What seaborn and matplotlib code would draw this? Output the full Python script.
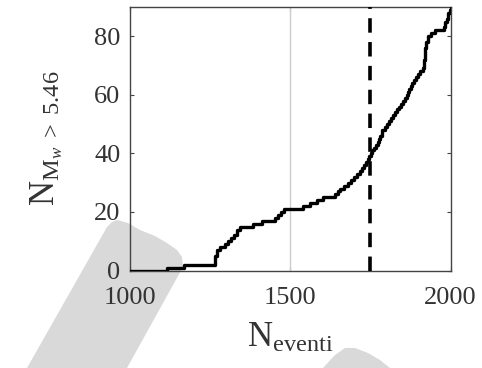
import matplotlib
matplotlib.use("Agg")
import matplotlib.pyplot as plt
from matplotlib.patches import Polygon
import seaborn as sns
import pandas as pd

# Data: event index where the cumulative count reaches the value
n_eventi = [1000, 1116, 1168, 1266, 1272, 1282, 1295, 1305, 1315, 1325, 1335, 1342,
            1385, 1411, 1453, 1462, 1472, 1479, 1541, 1562, 1583, 1602, 1640, 1648,
            1655, 1668, 1680, 1690, 1700, 1708, 1717, 1724, 1730, 1736, 1742, 1747,
            1752, 1756, 1762, 1768, 1774, 1778, 1781, 1785, 1795, 1802, 1808, 1815,
            1822, 1828, 1833, 1840, 1846, 1852, 1858, 1863, 1867, 1872, 1876, 1880,
            1886, 1892, 1898, 1906, 1914, 1918, 1920, 1925, 1930, 1940, 1951, 1980,
            1983, 1988, 1992, 1997, 2000]
n_count = [0, 1, 2, 5, 7, 8, 9, 10, 11, 12, 14, 15,
           16, 17, 18, 19, 20, 21, 22, 23, 24, 25, 26, 27,
           28, 29, 30, 31, 32, 33, 34, 35, 36, 37, 38, 39,
           40, 41, 42, 43, 44, 45, 46, 48, 49, 50, 51, 52,
           53, 54, 55, 56, 57, 58, 59, 60, 61, 62, 63, 64,
           65, 66, 67, 68, 69, 72, 76, 78, 80, 81, 82, 83,
           85, 86, 88, 89, 90]
ref_solid = 1500
ref_dashed = 1750
x_ticks = [1000, 1500, 2000]
y_ticks = [0, 20, 40, 60, 80]

sns.set_theme(style="white")
plt.rcParams['font.family'] = ['Liberation Serif', 'DejaVu Serif']
plt.rcParams['mathtext.fontset'] = 'custom'
plt.rcParams['mathtext.rm'] = 'Liberation Serif'
plt.rcParams['mathtext.it'] = 'Liberation Serif:italic'

txt = '#333333'
fig = plt.figure(figsize=(4.82, 3.68), dpi=100)

# background watermark shapes
W, H = 482.0, 368.0
def fpoly(pts):
    return Polygon([(x / W, 1 - y / H) for x, y in pts], closed=True,
                   transform=fig.transFigure, facecolor='#d9d9d9',
                   edgecolor='none', zorder=-5)
fig.patches.append(fpoly([(27, 368), (107, 227), (112, 222), (117, 220), (128, 223),
                          (140, 230), (155, 236), (167, 243), (177, 250), (182, 257),
                          (183, 267), (127, 368)]))
fig.patches.append(fpoly([(323, 368), (335, 355), (345, 348), (355, 348), (368, 353),
                          (380, 360), (390, 368)]))

ax = fig.add_axes([130 / W, 1 - 270.5 / H, 320.5 / W, 263.5 / H])
ax.set_facecolor('none')
ax.set_zorder(2)

df = pd.DataFrame({'N_eventi': n_eventi, 'N': n_count})
ax.axvline(ref_solid, color='#cccccc', lw=1.0, zorder=1)
sns.lineplot(data=df, x='N_eventi', y='N', ax=ax, color='black', lw=2.4,
             drawstyle='steps-post', estimator=None, sort=False, zorder=3)
ax.axvline(ref_dashed, color='black', lw=2.6, ls=(0, (4, 2.6)), zorder=4)

ax.set_xlim(1000, 2000)
ax.set_ylim(0, 90)
ax.set_xticks(x_ticks)
ax.set_yticks(y_ticks)
ax.tick_params(direction='in', length=3, width=0.8, color='#444444',
               top=True, right=True, bottom=True, left=True,
               labelsize=19, labelcolor=txt)
ax.tick_params(axis='x', pad=12)
ax.tick_params(axis='y', pad=7)
for s in ax.spines.values():
    s.set_color('#444444')
    s.set_linewidth(1.0)
    s.set_visible(True)

ax.set_xlabel(r'$\mathrm{N}_{\mathrm{eventi}}$', fontsize=25, color=txt, labelpad=9)
ax.set_ylabel(r'$\mathrm{N}_{\mathrm{M}_{w}\ >\ 5.46}$', fontsize=25, color=txt, labelpad=21)

fig.savefig('out.png', dpi=100)
